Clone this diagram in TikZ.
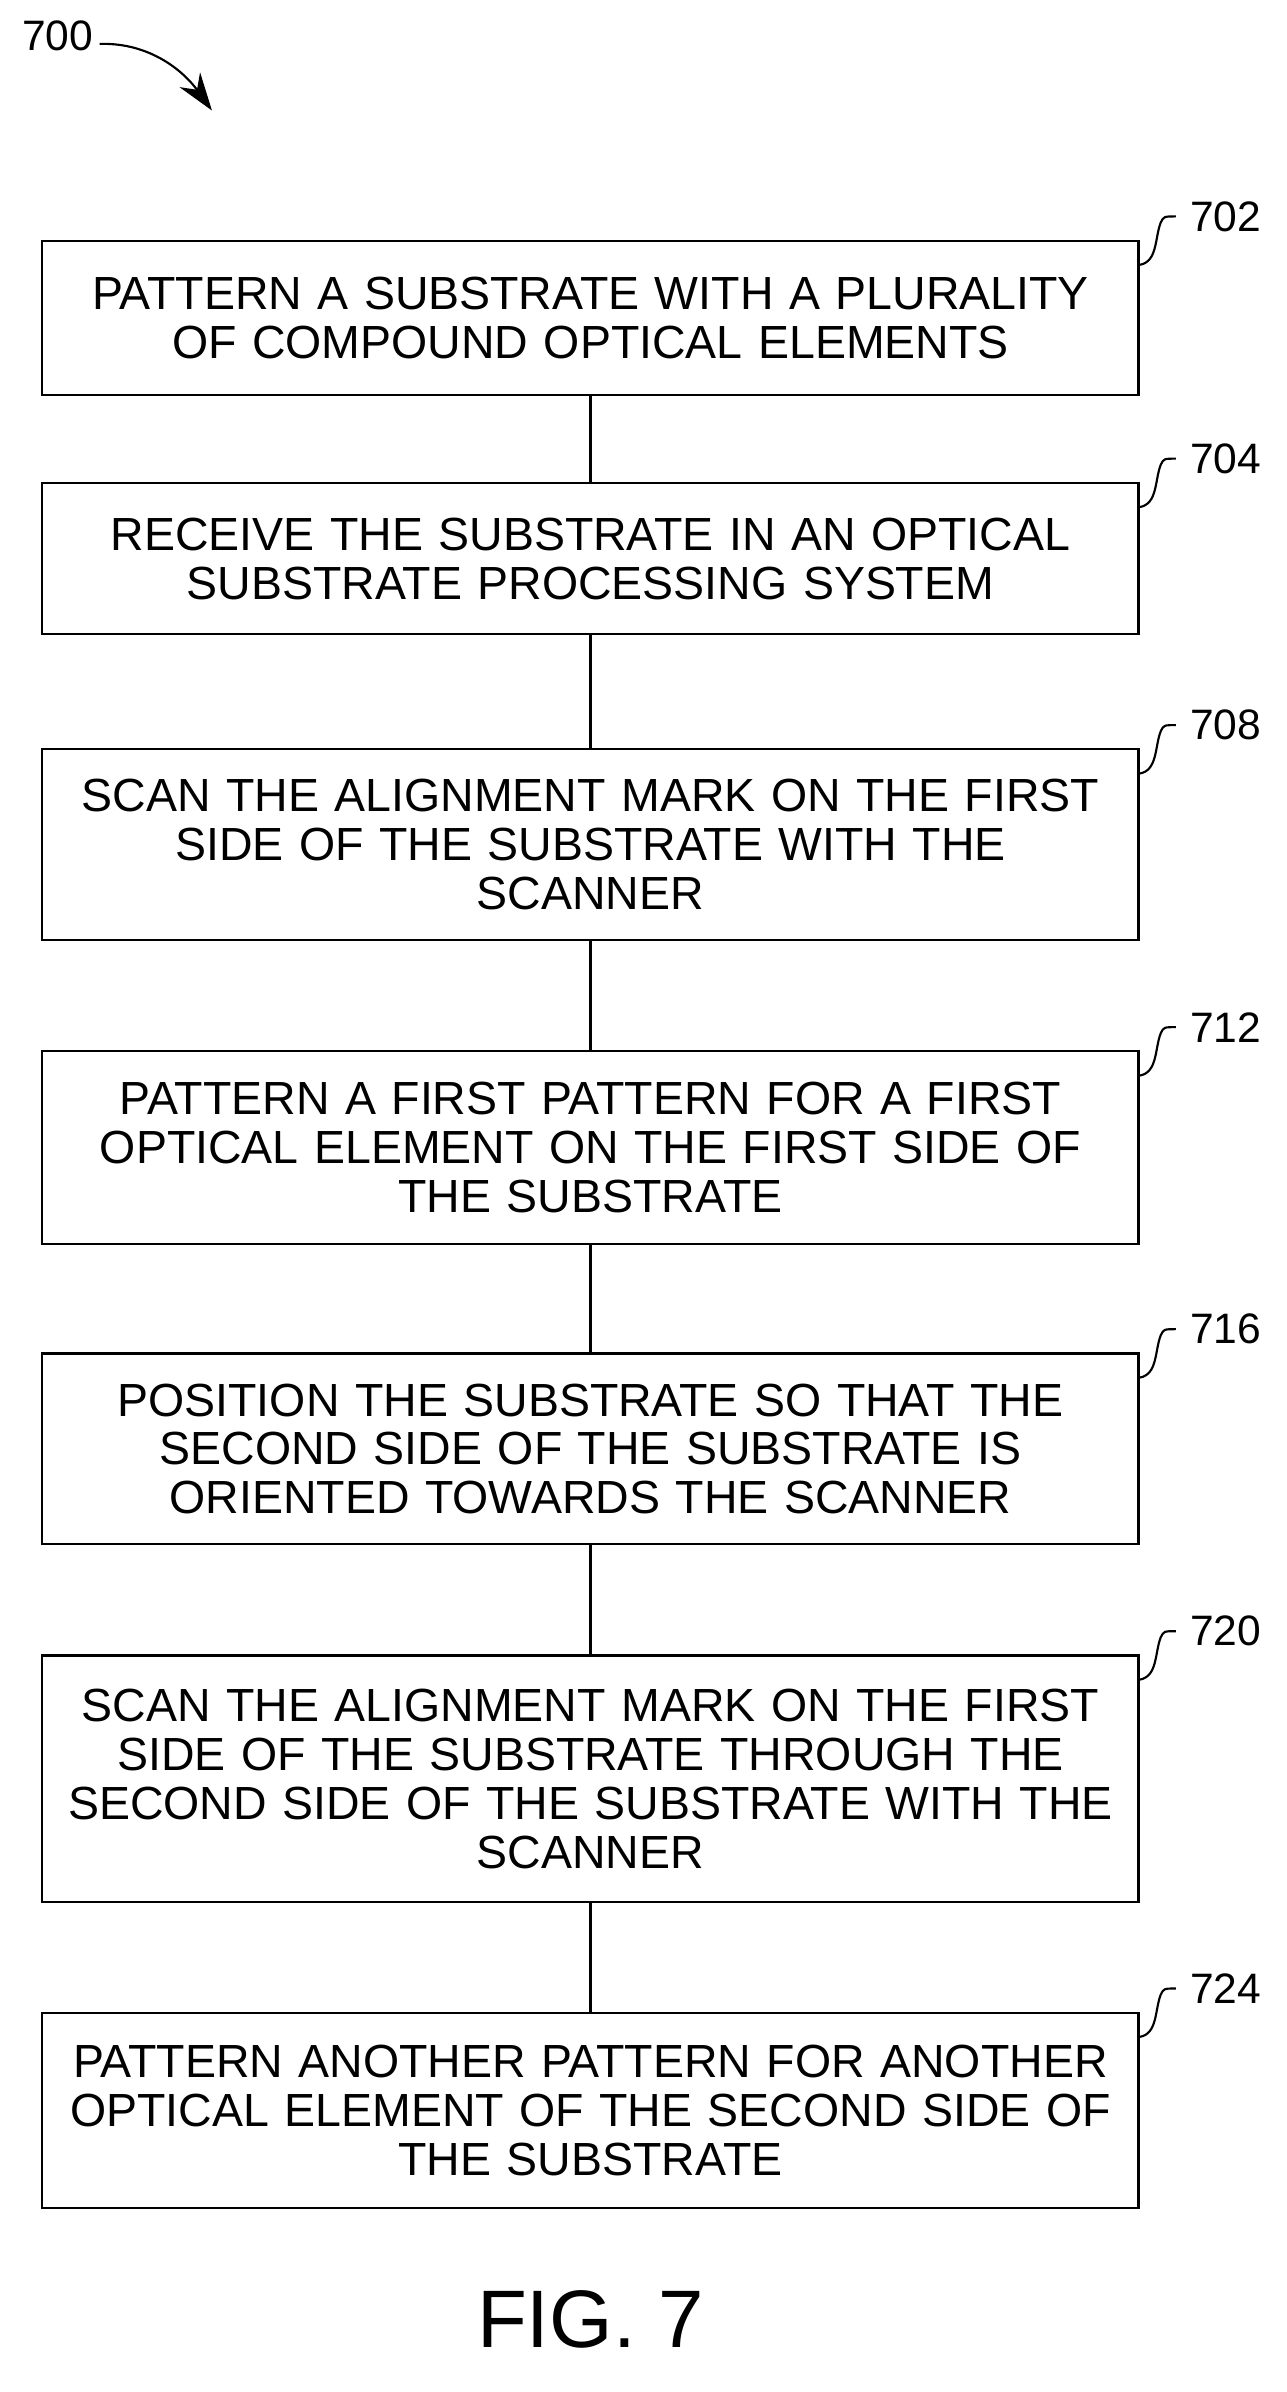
\documentclass[tikz,border=0pt]{standalone}
\usepackage{fontspec}
\setmainfont{Liberation Sans}
\usetikzlibrary{positioning,arrows.meta}
\begin{document}
\begin{tikzpicture}[x=0.03cm,y=-0.03cm,thick,
  stepbox/.style={draw,line width=1.2pt,minimum width=21.72cm,text width=21.5cm,align=center,
    font=\fontsize{26.2}{27.5}\selectfont,inner sep=0pt},
  reflabel/.style={font=\fontsize{24}{26}\selectfont,anchor=west}]
  \useasboundingbox (0,0) rectangle (850,1580);

  \node[stepbox,minimum height=3.06cm] (s702) at (390,210) {PATTERN A SUBSTRATE WITH A PLURALITY\\OF COMPOUND OPTICAL ELEMENTS};
  \node[stepbox,minimum height=3.0cm] (s704) at (390,369) {RECEIVE THE SUBSTRATE IN AN OPTICAL\\SUBSTRATE PROCESSING SYSTEM};
  \node[stepbox,minimum height=3.78cm] (s708) at (390,558) {SCAN THE ALIGNMENT MARK ON THE FIRST\\SIDE OF THE SUBSTRATE WITH THE\\SCANNER};
  \node[stepbox,minimum height=3.81cm] (s712) at (390,758) {PATTERN A FIRST PATTERN FOR A FIRST\\OPTICAL ELEMENT ON THE FIRST SIDE OF\\THE SUBSTRATE};
  \node[stepbox,minimum height=3.78cm] (s716) at (390,957) {POSITION THE SUBSTRATE SO THAT THE\\SECOND SIDE OF THE SUBSTRATE IS\\ORIENTED TOWARDS THE SCANNER};
  \node[stepbox,minimum height=4.89cm] (s720) at (390,1175) {SCAN THE ALIGNMENT MARK ON THE FIRST\\SIDE OF THE SUBSTRATE THROUGH THE\\SECOND SIDE OF THE SUBSTRATE WITH THE\\SCANNER};
  \node[stepbox,minimum height=3.87cm] (s724) at (390,1394) {PATTERN ANOTHER PATTERN FOR ANOTHER\\OPTICAL ELEMENT OF THE SECOND SIDE OF\\THE SUBSTRATE};

  % connectors
  \foreach \a/\b in {s702/s704,s704/s708,s708/s712,s712/s716,s716/s720,s720/s724}
    \draw[line width=1.2pt] (\a) -- (\b);

  % reference numerals
  \foreach \s/\t in {s702/702,s704/704,s708/708,s712/712,s716/716,s720/720,s724/724} {
    \draw[line width=1.2pt] ([yshift=-0.5cm]\s.north east) .. controls +(12,-2) and +(-4,10) .. ++(14,-28)
      .. controls +(2,-4) .. ++(10,-4) coordinate (c\t);
    \node[reflabel] (l\t) at ([xshift=0.15cm]c\t) {\t};
  }

  % figure number
  \node[font=\fontsize{24}{26}\selectfont] (n700) at (38,24) {700};
  \coordinate (a700) at (140,73);
  \draw[line width=1.2pt,-{Stealth[length=0.75cm,width=0.5cm]}] ([yshift=-0.15cm]n700.east) .. controls (100,28) and (122,48) .. (a700);

  \node[font=\fontsize{46}{50}\selectfont] (fig) at (390,1532) {FIG. 7};
\end{tikzpicture}
\end{document}
